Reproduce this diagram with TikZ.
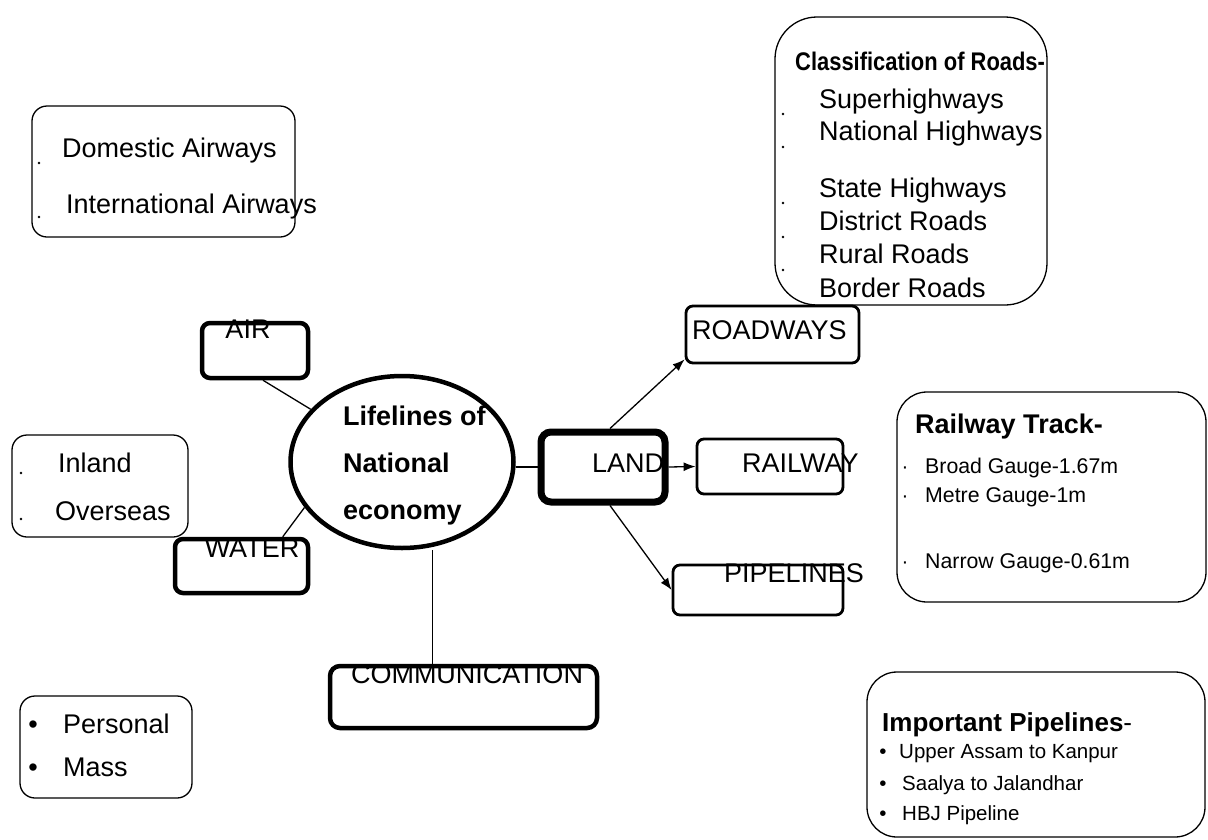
\documentclass[tikz,border=0pt]{standalone}
\usepackage{fontspec}
\setmainfont{Liberation Sans}
\newfontfamily\narrowfont[FakeStretch=0.86]{Liberation Sans}
\usetikzlibrary{shapes.geometric,arrows.meta,calc,positioning}
\tikzset{>={Latex[length=12pt,width=9pt]}}
\newcommand{\bigtxt}{\fontsize{27}{30}\selectfont}
\newcommand{\smalltxt}{\fontsize{20.5}{24}\selectfont}

\begin{document}
\begin{tikzpicture}[x=1pt,y=-1pt,
    mainbox/.style={draw, line width=4.5pt, rounded corners=8pt, inner sep=0pt},
    landbox/.style={draw, line width=7pt, rounded corners=10pt, inner sep=0pt},
    subbox/.style={draw, line width=2.8pt, rounded corners=7pt, inner sep=0pt},
    infobox/.style={draw, line width=1.3pt, rounded corners=15pt, inner sep=0pt},
    bigbox/.style={infobox, rounded corners=42pt},
    txt/.style={anchor=base west, inner sep=0pt, font=\bigtxt},
    btxt/.style={anchor=base west, inner sep=0pt, font=\bfseries\bigtxt},
    stxt/.style={anchor=base west, inner sep=0pt, font=\smalltxt},
    link/.style={line width=1.3pt}]
  \useasboundingbox (0,0) rectangle (1208,839);

  % centre
  \node[draw, ellipse, line width=4.5pt, minimum width=223pt, minimum height=172pt, inner sep=0pt] (econ) at (402,462) {};
  \foreach \t [count=\i] in {Lifelines of, National, economy}
    \node[btxt] (econ\i) at (343, 378+47*\i) {\t};

  % the four modes
  \node[mainbox, minimum width=106pt, minimum height=55pt] (air) at (255,350.5) {};
  \node[txt, anchor=base] (airlbl) at (248,338) {AIR};
  \node[mainbox, minimum width=133pt, minimum height=54pt] (water) at (241.5,566) {};
  \node[txt, anchor=base] (waterlbl) at (252,557) {WATER};
  \node[mainbox, rounded corners=10pt, minimum width=267pt, minimum height=62pt] (comm) at (463.5,697) {};
  \node[txt, anchor=base] (commlbl) at (467,683) {COMMUNICATION};
  \node[landbox, minimum width=124pt, minimum height=70pt] (land) at (603,467) {};
  \node[txt] (landlbl) at (592,472) {LAND};

  % land transport
  \node[subbox, minimum width=173pt, minimum height=57pt] (roadways) at (772.5,334.5) {};
  \node[txt] (roadlbl) at (692,339) {ROADWAYS};
  \node[subbox, minimum width=146pt, minimum height=55pt] (railway) at (770,466.5) {};
  \node[txt] (raillbl) at (742,472) {RAILWAY};
  \node[subbox, minimum width=170pt, minimum height=50pt] (pipelines) at (758,590) {};
  \node[txt] (pipelbl) at (724,582) {PIPELINES};

  % connectors
  \draw[link] ($(air.south)+(8,0)$) -- (econ.150);
  \draw[link] ($(water.north)!0.6!(water.north east)$) -- (econ.205);
  \coordinate (commtop) at ($(comm.north)+(-31,0)$);
  \draw[link] (commtop) -- (commtop |- econ.south);
  \draw[link] (econ.east |- land.west) -- (land.west);
  \draw[link, ->] (land.east) -- (railway.west);
  \draw[link, ->] ($(land.north)+(7,0)$) -- ($(roadways.south west)+(0,-5)$);
  \draw[link, ->] ($(land.south)+(7,0)$) -- (pipelines.west);

  % detail boxes
  \node[infobox, minimum width=263pt, minimum height=131pt] (airinfo) at (163.5,171.5) {};
  \node[txt] (dom) at (62,157) {Domestic Airways};
  \node[txt] (intl) at (66,213) {International Airways};

  \node[infobox, minimum width=176pt, minimum height=102pt] (waterinfo) at (100,486) {};
  \node[txt] (inland) at (58,472) {Inland};
  \node[txt] (overseas) at (55,520) {Overseas};

  \node[infobox, minimum width=172pt, minimum height=102pt] (comminfo) at (106,747) {};
  \node[txt] (pers) at (63,733) {Personal};
  \node[txt] (mass) at (63,776) {Mass};
  \node[txt, anchor=base] at (33,733) {•};
  \node[txt, anchor=base] at (33,776) {•};

  \node[bigbox, minimum width=272pt, minimum height=288pt] (roadinfo) at (911,161) {};
  \node[anchor=base west, inner sep=0pt, font=\narrowfont\bfseries\fontsize{25.5}{30}\selectfont] (roadhead) at (795,70) {Classification of Roads-};
  \foreach \y/\t in {108/Superhighways, 140/National Highways, 197/State Highways, 230/District Roads, 263/Rural Roads, 297/Border Roads}
    \node[txt] at (819,\y) {\t};

  \node[infobox, rounded corners=30pt, minimum width=309pt, minimum height=210pt] (railinfo) at (1051.5,497) {};
  \node[btxt, font=\bfseries\fontsize{27}{30}\selectfont] (railhead) at (915,433) {Railway Track-};
  \foreach \y/\t in {473/Broad Gauge-1.67m, 502/Metre Gauge-1m, 568/Narrow Gauge-0.61m}
  {
    \node[stxt, font=\fontsize{21.3}{24}\selectfont] at (925,\y) {\t};
    \node[stxt, anchor=base] at (905,\y) {·};
  }

  \node[infobox, rounded corners=30pt, minimum width=338pt, minimum height=165pt] (pipeinfo) at (1036,754.5) {};
  \node[btxt, font=\fontsize{26}{30}\selectfont] (pipehead) at (882,731) {\textbf{Important Pipelines}-};
  \foreach \y/\t/\xx in {758/Upper Assam to Kanpur/899, 790/Saalya to Jalandhar/902, 820/HBJ Pipeline/902}
  {
    \node[stxt] at (\xx,\y) {\t};
    \node[stxt, anchor=base] at (883,\y) {•};
  }

  % small marks
  \foreach \p in {(39,163),(39,217),(21,473),(21,519),(783,114),(783,147),(783,203),(783,237),(783,270)}
    \fill \p circle (1.3);
\end{tikzpicture}
\end{document}
